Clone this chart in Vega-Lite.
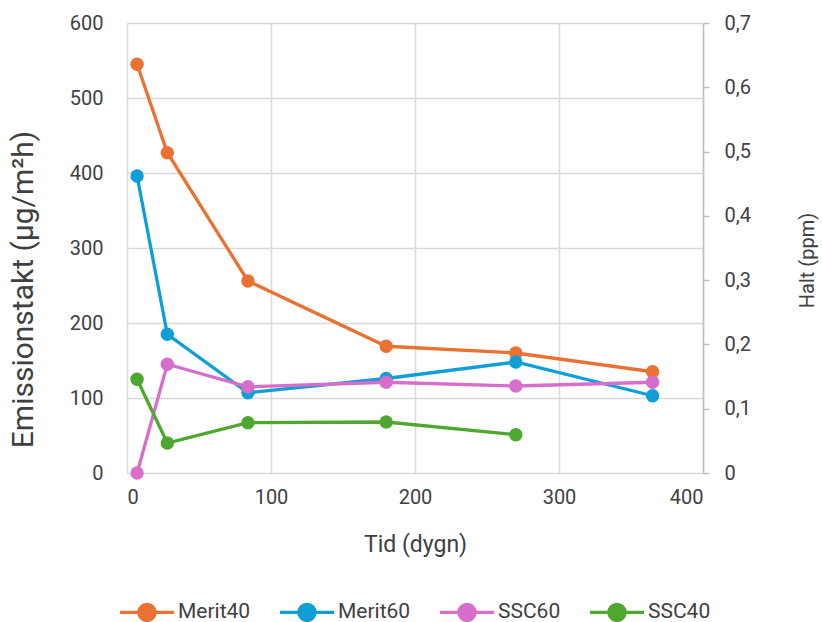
{
  "$schema": "https://vega.github.io/schema/vega-lite/v6.json",
  "width": 576,
  "height": 450,
  "autosize": {"type": "none"},
  "padding": {"left": 127, "top": 23, "right": 119, "bottom": 149},
  "background": "white",
  "config": {
    "view": {"stroke": null},
    "font": "Roboto",
    "axis": {"labelFont": "Roboto", "titleFont": "Roboto", "labelFontSize": 20, "labelColor": "#404040", "titleColor": "#404040", "titleFontWeight": "normal", "gridColor": "#D9D9D9", "gridWidth": 1.5},
    "legend": {"labelFont": "Roboto", "labelFontSize": 21, "labelColor": "#404040"}
  },
  "data": {
    "values": [
      {"serie": "Merit40", "dag": 7, "v": 545},
      {"serie": "Merit40", "dag": 28, "v": 427},
      {"serie": "Merit40", "dag": 84, "v": 256},
      {"serie": "Merit40", "dag": 180, "v": 169},
      {"serie": "Merit40", "dag": 270, "v": 160},
      {"serie": "Merit40", "dag": 365, "v": 135},
      {"serie": "Merit60", "dag": 7, "v": 396},
      {"serie": "Merit60", "dag": 28, "v": 185},
      {"serie": "Merit60", "dag": 84, "v": 107},
      {"serie": "Merit60", "dag": 180, "v": 126},
      {"serie": "Merit60", "dag": 270, "v": 148},
      {"serie": "Merit60", "dag": 365, "v": 103},
      {"serie": "SSC60", "dag": 7, "v": 0},
      {"serie": "SSC60", "dag": 28, "v": 145},
      {"serie": "SSC60", "dag": 84, "v": 115},
      {"serie": "SSC60", "dag": 180, "v": 121},
      {"serie": "SSC60", "dag": 270, "v": 116},
      {"serie": "SSC60", "dag": 365, "v": 121},
      {"serie": "SSC40", "dag": 7, "v": 125},
      {"serie": "SSC40", "dag": 28, "v": 40},
      {"serie": "SSC40", "dag": 84, "v": 67},
      {"serie": "SSC40", "dag": 180, "v": 68},
      {"serie": "SSC40", "dag": 270, "v": 51}
    ]
  },
  "layer": [
    {
      "mark": {"type": "line", "strokeWidth": 3.3, "point": {"filled": true, "size": 180, "opacity": 1}},
      "encoding": {
        "x": {"field": "dag", "type": "quantitative", "scale": {"domain": [0, 400], "nice": false},
          "axis": {"values": [0, 100, 200, 300, 400], "title": "Tid (dygn)", "titleFontSize": 23, "domain": false, "ticks": false, "labelPadding": 14, "titlePadding": 26}},
        "y": {"field": "v", "type": "quantitative", "scale": {"domain": [0, 600], "nice": false},
          "axis": {"values": [0, 100, 200, 300, 400, 500, 600], "title": "Emissionstakt (µg/m²h)", "titleFontSize": 30, "titleY": 266, "domain": false, "ticks": false, "labelPadding": 24, "titlePadding": 31}},
        "color": {"field": "serie", "type": "nominal",
          "scale": {"domain": ["Merit40", "Merit60", "SSC60", "SSC40"], "range": ["#E97132", "#0F9ED5", "#D86ECC", "#4EA72E"]},
          "legend": {"title": null, "orient": "none", "direction": "horizontal", "legendX": 4.5, "legendY": 573.5,
            "symbolType": "M-2,0L2,0M-0.6,0A0.6,0.6,0,1,1,0.6,0A0.6,0.6,0,1,1,-0.6,0Z",
            "symbolSize": 729, "symbolStrokeWidth": 3.3, "labelOffset": 15.5, "columnPadding": 22,
            "encode": {"symbols": {"update": {"fill": {"scale": "color", "field": "value"}, "stroke": {"scale": "color", "field": "value"}, "opacity": {"value": 1}}}}}}
      }
    },
    {
      "mark": {"type": "rule", "opacity": 0},
      "encoding": {
        "y": {"datum": 0, "type": "quantitative", "scale": {"domain": [0, 0.7], "nice": false},
          "axis": {"orient": "right", "values": [0, 0.1, 0.2, 0.3, 0.4, 0.5, 0.6, 0.7], "grid": false, "domain": true, "domainColor": "#BFBFBF", "domainWidth": 1.5, "ticks": true, "tickColor": "#BFBFBF", "tickSize": 6, "tickWidth": 1.5, "labelPadding": 15,
            "labelExpr": "datum.value == 0 ? '0' : replace(format(datum.value, '.1f'), '.', ',')",
            "title": "Halt (ppm)", "titleFontSize": 20, "titleAngle": 270, "titleY": 237, "titlePadding": 67}}
      }
    }
  ],
  "resolve": {"scale": {"y": "independent"}}
}
